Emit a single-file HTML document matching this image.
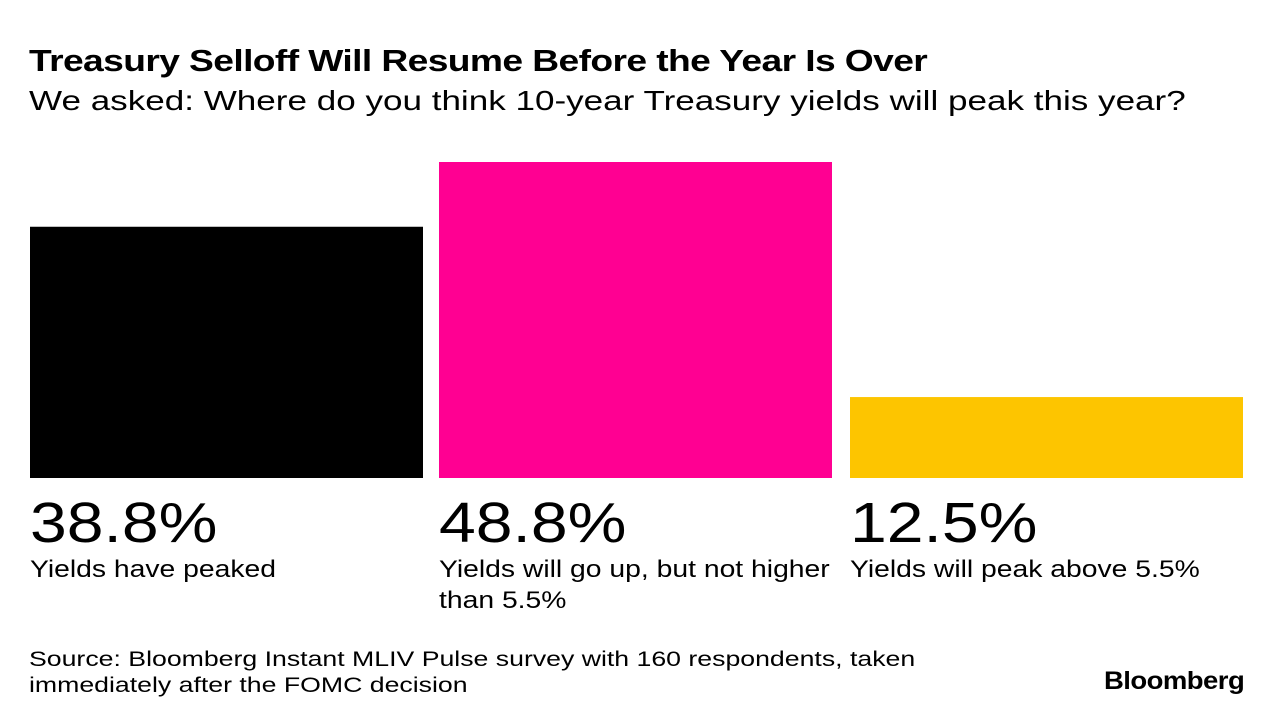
<!DOCTYPE html>
<html><head><meta charset="utf-8"><style>
body{margin:0;width:1281px;height:726px;background:#fff;font-family:"Liberation Sans",sans-serif;overflow:hidden;position:relative}
.t{position:absolute;white-space:nowrap;color:#000;transform-origin:0 0}
</style></head><body>
<div class="t" style="left:29px;top:43px;font-size:31px;font-weight:bold;letter-spacing:-0.5px;transform:scaleX(1.2)">Treasury Selloff Will Resume Before the Year Is Over</div>
<div class="t" style="left:29px;top:85px;font-size:28px;transform:scaleX(1.252)">We asked: Where do you think 10-year Treasury yields will peak this year?</div>
<svg id="chart" width="1281" height="726" style="position:absolute;left:0;top:0"></svg>
<div class="t" style="left:29px;top:646px;font-size:21.5px;line-height:26px;transform:scaleX(1.24)">Source: Bloomberg Instant MLIV Pulse survey with 160 respondents, taken<br>immediately after the FOMC decision</div>
<div class="t" style="left:1104px;top:667px;font-size:25px;font-weight:bold;letter-spacing:-0.5px;transform:scaleX(1.1)">Bloomberg</div>
<script>
const categories=["Yields have peaked","Yields will go up, but not higher than 5.5%","Yields will peak above 5.5%"];
const values=[38.8,48.8,12.5];
const valueLabels=["38.8%","48.8%","12.5%"];
const colors=["#000000","#ff0092","#fdc500"];
const labelLines=[["Yields have peaked"],["Yields will go up, but not higher","than 5.5%"],["Yields will peak above 5.5%"]];
const svg=document.getElementById('chart');
const NS="http://www.w3.org/2000/svg";
const baseY=478, pxPer=316/48.8;
const xs=[30,439,850], w=393;
function y(v){return baseY-v*pxPer;}
function sx(x,k){return 'translate('+x+',0) scale('+k+',1) translate('+(-x)+',0)';}
values.forEach((v,i)=>{
  const r=document.createElementNS(NS,'rect');
  
  
  r.setAttribute('x',xs[i]);r.setAttribute('y',y(v));
  r.setAttribute('width',w);r.setAttribute('height',baseY-y(v));
  r.setAttribute('fill',colors[i]);
  svg.appendChild(r);
  const t=document.createElementNS(NS,'text');
  
  
  t.setAttribute('x',xs[i]);t.setAttribute('y',542);
  t.setAttribute('font-size','57');t.setAttribute('font-family','Liberation Sans, sans-serif');
  t.setAttribute('transform',sx(xs[i],1.16));
  t.textContent=valueLabels[i];
  svg.appendChild(t);
  labelLines[i].forEach((ln,j)=>{
    const c=document.createElementNS(NS,'text');
    
    
    c.setAttribute('x',xs[i]);c.setAttribute('y',577+j*31);
    c.setAttribute('font-size','24');c.setAttribute('font-family','Liberation Sans, sans-serif');
    c.setAttribute('transform',sx(xs[i],1.18));
    c.textContent=ln;
    svg.appendChild(c);
  });
});
</script>
</body></html>
